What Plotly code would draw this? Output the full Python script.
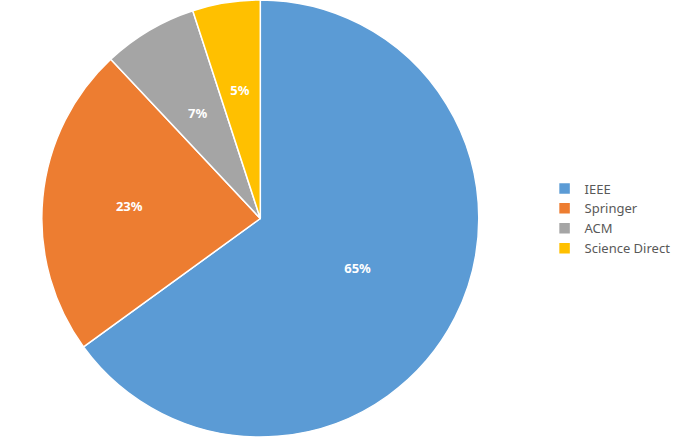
import plotly.graph_objects as go

# publisher share of the reviewed papers
publishers = ["IEEE", "Springer", "ACM", "Science Direct"]
shares = [65, 23, 7, 5]
colors = ["#5B9BD5", "#ED7D31", "#A5A5A5", "#FFC000"]

# big slices get their label from the main pie, the thin ones from an
# inner transparent pie so the text sits closer to the centre
main_text = ["<b>%{percent:.0%}</b>", "<b>%{percent:.0%}</b>", "", ""]
inner_text = ["", "", "<b>%{percent:.0%}</b>", "<b>%{percent:.0%}</b>"]

label_font = dict(color="#ffffff", size=13, family="Noto Sans")

fig = go.Figure()

fig.add_trace(go.Pie(
    labels=publishers,
    values=shares,
    sort=False,
    direction="clockwise",
    rotation=0,
    texttemplate=main_text,
    textposition="inside",
    insidetextorientation="horizontal",
    textfont=label_font,
    marker=dict(colors=colors, line=dict(color="#ffffff", width=1.5)),
    domain=dict(x=[0.0, 0.76], y=[0, 1]),
    hoverinfo="label+percent",
))

fig.add_trace(go.Pie(
    labels=publishers,
    values=shares,
    sort=False,
    direction="clockwise",
    rotation=0,
    texttemplate=inner_text,
    textposition="inside",
    insidetextorientation="horizontal",
    textfont=label_font,
    marker=dict(colors=["rgba(0,0,0,0)"] * 4, line=dict(width=0)),
    domain=dict(x=[0.38 - 0.219, 0.38 + 0.219], y=[0.5 - 0.343, 0.5 + 0.343]),
    hoverinfo="skip",
    showlegend=False,
))

fig.update_layout(
    width=685,
    height=437,
    margin=dict(l=0, r=0, t=0, b=0),
    paper_bgcolor="#ffffff",
    font=dict(family="Noto Sans", color="#595959"),
    legend=dict(
        x=0.795, y=0.5, xanchor="left", yanchor="middle",
        font=dict(size=13, color="#595959"),
        itemwidth=30,
    ),
)

fig.write_html(
    "out.html",
    config={"displayModeBar": False},
    post_script="document.body.style.margin='0';",
)
